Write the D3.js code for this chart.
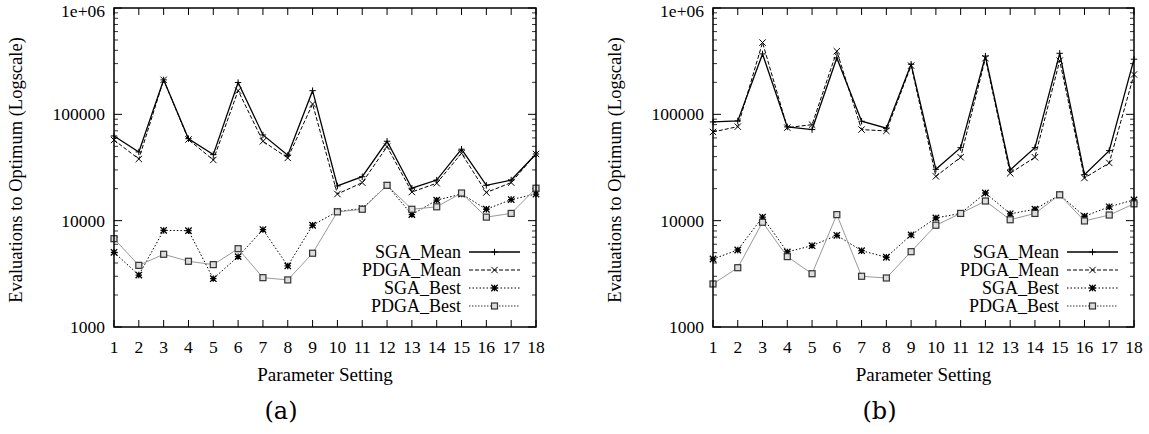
<!DOCTYPE html>
<html>
<head>
<meta charset="utf-8">
<script src="https://cdn.jsdelivr.net/npm/d3@7"></script>
<style>
  body { margin: 0; background: #fff; }
</style>
</head>
<body>
<svg id="chart" width="1149" height="434" font-family="Liberation Serif, Times New Roman, Times, serif"></svg>
<script>
var settings = d3.range(1, 19);

// panel (a)
var a_sga_mean = [62600, 44300, 211000, 59000, 41800, 199000, 64000, 41200, 167000,
                  21200, 25900, 55800, 20200, 24100, 47000, 21500, 24100, 42400];
var a_pdga_mean = [57400, 38000, 211000, 58000, 37200, 167000, 55800, 38900, 125000,
                   17800, 22800, 49700, 18600, 22500, 43000, 18400, 22800, 42400];
var a_sga_best = [5040, 3080, 8110, 8050, 2850, 4590, 8240, 3750, 9060,
                  12200, 13000, 21500, 11400, 15600, 17800, 12800, 15800, 17800];
var a_pdga_best = [6770, 3800, 4830, 4150, 3860, 5450, 2910, 2770, 4940,
                   12100, 12800, 21500, 12800, 13500, 18200, 10800, 11700, 20200];

// panel (b)
var b_sga_mean = [84800, 86700, 370000, 76200, 71900, 339000, 86100, 74000, 296000,
                  30400, 48600, 353000, 30000, 48600, 375000, 27100, 45600, 330000];
var b_pdga_mean = [68300, 76600, 473000, 75000, 80000, 392000, 71900, 69800, 287000,
                   26100, 39500, 337000, 27900, 39500, 320000, 25200, 34900, 237000];
var b_sga_best = [4360, 5300, 10800, 5080, 5820, 7280, 5220, 4530, 7340,
                  10600, 11700, 18200, 11600, 12800, 17500, 11000, 13500, 15700];
var b_pdga_best = [2540, 3610, 9660, 4590, 3170, 11400, 3000, 2890, 5110,
                   9060, 11700, 15300, 10200, 11700, 17500, 9940, 11300, 14400];

var series_names = ["SGA_Mean", "PDGA_Mean", "SGA_Best", "PDGA_Best"];
var y_tick_values = [1000, 10000, 100000, 1000000];
var y_tick_labels = ["1000", "10000", "100000", "1e+06"];
var panel_labels = ["(a)", "(b)"];

var series_style = [
    {stroke: "#000", width: 1.3, dash: null, marker: "plus"},
    {stroke: "#000", width: 1, dash: "4,2", marker: "cross"},
    {stroke: "#000", width: 1, dash: "1.5,2", marker: "star"},
    {stroke: "#999", width: 1, dash: null, marker: "square"}
];

var serif = "Liberation Serif, Times New Roman, Times, serif";
var svg = d3.select("#chart");

function add_text(g, x, y, size, anchor, str) {
    return g.append("text").attr("x", x).attr("y", y)
        .attr("font-family", serif).attr("font-size", size)
        .attr("text-anchor", anchor).attr("fill", "#000").text(str);
}

function draw_marker(g, kind, x, y) {
    var s = 3.2;
    if (kind == "plus") {
        g.append("path").attr("d", "M" + (x - s) + "," + y + "h" + 2 * s + "M" + x + "," + (y - s) + "v" + 2 * s)
            .attr("stroke", "#000").attr("stroke-width", 1);
    } else if (kind == "cross") {
        g.append("path").attr("d", "M" + (x - s) + "," + (y - s) + "l" + 2 * s + "," + 2 * s +
                "M" + (x - s) + "," + (y + s) + "l" + 2 * s + "," + (-2 * s))
            .attr("stroke", "#000").attr("stroke-width", 1);
    } else if (kind == "star") {
        g.append("path").attr("d", "M" + (x - s) + "," + (y - s) + "l" + 2 * s + "," + 2 * s +
                "M" + (x - s) + "," + (y + s) + "l" + 2 * s + "," + (-2 * s) +
                "M" + (x - s) + "," + y + "h" + 2 * s + "M" + x + "," + (y - s) + "v" + 2 * s)
            .attr("stroke", "#000").attr("stroke-width", 1.3);
    } else {
        g.append("rect").attr("x", x - 3).attr("y", y - 3).attr("width", 6).attr("height", 6)
            .attr("fill", "#ddd").attr("stroke", "#333").attr("stroke-width", 1.2);
    }
}

function draw_panel(left, right, label, all_series) {
    var top = 8, bottom = 327;
    var x = d3.scaleLinear().domain([1, 18]).range([left, right]);
    var y = d3.scaleLog().domain([1000, 1000000]).range([bottom, top]);
    var g = svg.append("g");

    // minor + major ticks on y (left and right, inside)
    var minor = [];
    [1000, 10000, 100000].forEach(function(d) {
        d3.range(2, 10).forEach(function(k) { minor.push(d * k); });
    });
    minor.forEach(function(v) {
        g.append("line").attr("x1", left).attr("x2", left + 4).attr("y1", y(v)).attr("y2", y(v))
            .attr("stroke", "#000").attr("stroke-width", 0.8);
        g.append("line").attr("x1", right).attr("x2", right - 4).attr("y1", y(v)).attr("y2", y(v))
            .attr("stroke", "#000").attr("stroke-width", 0.8);
    });
    y_tick_values.forEach(function(v, i) {
        g.append("line").attr("x1", left).attr("x2", left + 8).attr("y1", y(v)).attr("y2", y(v))
            .attr("stroke", "#000");
        g.append("line").attr("x1", right).attr("x2", right - 8).attr("y1", y(v)).attr("y2", y(v))
            .attr("stroke", "#000");
        // top label sits a little lower so it stays inside the page
        add_text(g, left - 9, Math.max(y(v) + 6, 17), 17.5, "end", y_tick_labels[i]);
    });

    // x ticks (bottom and top, inside)
    settings.forEach(function(s) {
        g.append("line").attr("x1", x(s)).attr("x2", x(s)).attr("y1", bottom).attr("y2", bottom - 7)
            .attr("stroke", "#000");
        g.append("line").attr("x1", x(s)).attr("x2", x(s)).attr("y1", top).attr("y2", top + 7)
            .attr("stroke", "#000");
        add_text(g, x(s), bottom + 26, 17.5, "middle", s);
    });

    // data lines
    all_series.forEach(function(values, i) {
        var st = series_style[i];
        var line = d3.line().x(function(d, j) { return x(settings[j]); }).y(function(d) { return y(d); });
        g.append("path").attr("d", line(values)).attr("fill", "none")
            .attr("stroke", st.stroke).attr("stroke-width", st.width)
            .attr("stroke-dasharray", st.dash);
    });
    all_series.forEach(function(values, i) {
        values.forEach(function(v, j) {
            draw_marker(g, series_style[i].marker, x(settings[j]), y(v));
        });
    });

    // frame
    g.append("rect").attr("x", left).attr("y", top).attr("width", right - left).attr("height", bottom - top)
        .attr("fill", "none").attr("stroke", "#000").attr("stroke-width", 1.5);

    // legend
    series_names.forEach(function(name, i) {
        var ly = 252 + i * 18;
        var st = series_style[i];
        add_text(g, right - 75, ly + 6, 18, "end", name);
        g.append("line").attr("x1", right - 67).attr("x2", right - 16).attr("y1", ly).attr("y2", ly)
            .attr("stroke", i == 3 ? "#000" : st.stroke).attr("stroke-width", i == 3 ? 0.8 : st.width)
            .attr("stroke-dasharray", i == 3 ? "1.5,1.5" : st.dash);
        draw_marker(g, st.marker, (right - 67 + right - 16) / 2, ly);
    });

    // axis titles
    add_text(g, (left + right) / 2, 381, 19, "middle", "Parameter Setting");
    add_text(g, 0, 0, 18.5, "middle", "Evaluations to Optimum (Logscale)")
        .attr("transform", "translate(" + (left - 92) + ",170) rotate(-90)");
    add_text(g, (left + right) / 2 - 44, 419, 24, "middle", label)
        .attr("font-family", "DejaVu Serif, Liberation Serif, serif");
}

draw_panel(114, 536, panel_labels[0], [a_sga_mean, a_pdga_mean, a_sga_best, a_pdga_best]);
draw_panel(713, 1134, panel_labels[1], [b_sga_mean, b_pdga_mean, b_sga_best, b_pdga_best]);
</script>
</body>
</html>
